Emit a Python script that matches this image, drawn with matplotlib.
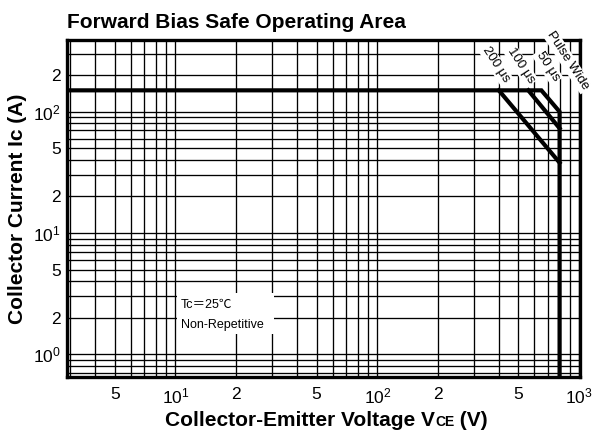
import matplotlib

matplotlib.use("Agg")
import matplotlib.pyplot as plt
import numpy as np
from matplotlib.patches import Rectangle
from matplotlib.ticker import FixedFormatter, FixedLocator, LogLocator, NullFormatter

plt.rcParams["font.family"] = ["Liberation Sans", "Noto Sans CJK JP", "DejaVu Sans"]
plt.rcParams["mathtext.fontset"] = "custom"
plt.rcParams["mathtext.rm"] = "Liberation Sans"

# axis ticks / labels
X_TICKS = [5, 10, 20, 50, 100, 200, 500, 1000]
X_LABELS = ["5", r"$\mathregular{10^1}$", "2", "5", r"$\mathregular{10^2}$", "2", "5",
            r"$\mathregular{10^3}$"]
Y_TICKS = [1, 2, 5, 10, 20, 50, 100, 200]
Y_LABELS = [r"$\mathregular{10^0}$", "2", "5", r"$\mathregular{10^1}$", "2", "5",
            r"$\mathregular{10^2}$", "2"]

V_RANGE = (2.9, 1010)
I_RANGE = (0.65, 390)

# SOA boundary: 150 A limit -> knee -> 800 V wall
dc_v = [2.9, 650, 800, 800]
dc_i = [150, 150, 100, 0.65]
pulse200_v = [400, 800]
pulse200_i = [150, 38]
pulse100_v = [560, 800]
pulse100_i = [150, 73]

PULSE_LABELS = ["200 μs", "100 μs", "50 μs", "Pulse Wide"]

W, H = 594, 434
fig = plt.figure(figsize=(W / 100, H / 100), dpi=100)
ax = fig.add_axes([67 / W, 57 / H, 513 / W, 337 / H])
ax.set_xscale("log")
ax.set_yscale("log")
ax.set_xlim(*V_RANGE)
ax.set_ylim(*I_RANGE)

ax.xaxis.set_major_locator(FixedLocator(X_TICKS))
ax.xaxis.set_major_formatter(FixedFormatter(X_LABELS))
ax.yaxis.set_major_locator(FixedLocator(Y_TICKS))
ax.yaxis.set_major_formatter(FixedFormatter(Y_LABELS))
for axis in (ax.xaxis, ax.yaxis):
    axis.set_minor_locator(LogLocator(base=10, subs=np.arange(1, 10)))
    axis.set_minor_formatter(NullFormatter())
ax.tick_params(which="both", length=0, labelsize=12.5, colors="black")
ax.tick_params(axis="x", pad=7)
ax.tick_params(axis="y", pad=4.5)

ax.set_axisbelow(True)
ax.grid(which="both", color="black", lw=0.95)
for sp in ax.spines.values():
    sp.set_linewidth(2.4)

for v, i in ((dc_v, dc_i), (pulse200_v, pulse200_i), (pulse100_v, pulse100_i)):
    ax.plot(v, i, color="black", lw=3.0, solid_joinstyle="miter", zorder=3)

# condition note box
ax.add_patch(Rectangle((10.15, 1.47), 30.7 - 10.15, 3.2 - 1.47,
                       facecolor="white", edgecolor="none", zorder=2))
ax.text(10.65, 2.55, "Tc＝25℃", fontsize=9, va="center", zorder=4)
ax.text(10.65, 1.75, "Non-Repetitive", fontsize=9, va="center", zorder=4)

# pulse width labels
for label, (v, i) in zip(PULSE_LABELS, [(386, 245), (513, 240), (697, 236), (878, 262)]):
    ax.text(v, i, label, rotation=-57, rotation_mode="anchor", ha="center", va="center",
            fontsize=9.5, zorder=6, clip_on=False,
            bbox=dict(facecolor="white", edgecolor="none", pad=1.0))

fig.text(67 / W, 1 - 28 / H, "Forward Bias Safe Operating Area", fontsize=15,
         weight="bold", va="baseline")
fig.text(18 / W, 1 - 209 / H, "Collector Current Ic (A)", fontsize=15, weight="bold",
         rotation=90, ha="center", va="center")

# x label with small "CE"
base_y = 1 - 426 / H
t1 = fig.text(165 / W, base_y, "Collector-Emitter Voltage V", fontsize=15, weight="bold",
              va="baseline")
fig.canvas.draw()
x1 = t1.get_window_extent().x1
t2 = fig.text(x1 / W, base_y, "CE", fontsize=10, weight="bold", va="baseline")
fig.canvas.draw()
x2 = t2.get_window_extent().x1
fig.text(x2 / W, base_y, " (V)", fontsize=15, weight="bold", va="baseline")

fig.savefig("out.png", dpi=100)
